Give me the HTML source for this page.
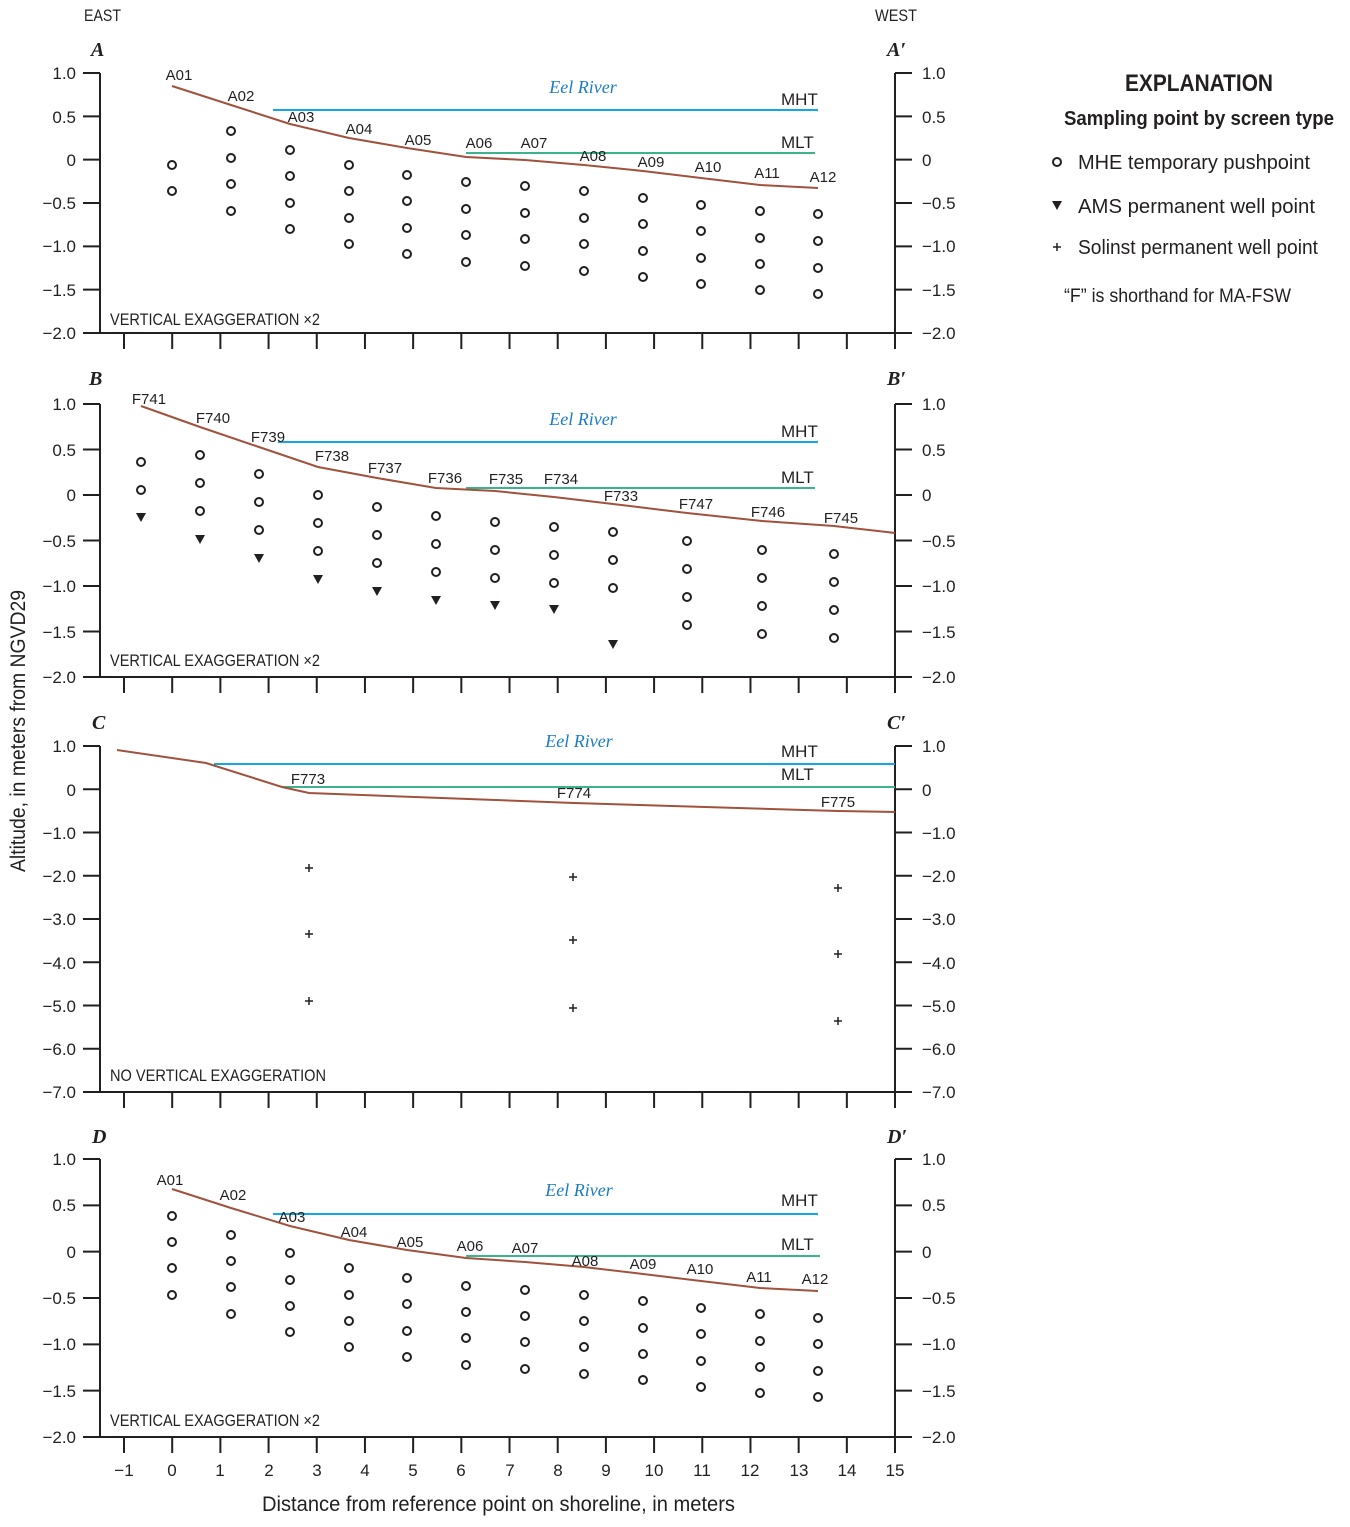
<!DOCTYPE html>
<html><head><meta charset="utf-8"><style>
body{margin:0;background:#fff}
svg text{font-family:"Liberation Sans Narrow","Liberation Sans",sans-serif;fill:#231f20}
.t{font-size:17px}
.l{font-size:15px}
.er{font-family:"Liberation Serif",serif !important;font-style:italic;fill:#1a7cc8 !important;font-size:18px}
.pl{font-family:"Liberation Serif",serif !important;font-style:italic;font-weight:bold;font-size:20px}
</style></head><body>
<svg id="s" width="1350" height="1522" viewBox="0 0 1350 1522" xmlns="http://www.w3.org/2000/svg">
<g id="g" stroke="#231f20" fill="none"></g>
<text x="84" y="21" class="t" textLength="37" lengthAdjust="spacingAndGlyphs">EAST</text><text x="875" y="21" class="t" textLength="42" lengthAdjust="spacingAndGlyphs">WEST</text>
<!-- Panel A -->
<text x="91" y="56" class="pl">A</text><text x="887" y="56" class="pl">A′</text>
<g class="t" text-anchor="end"><text x="76" y="79">1.0</text><text x="76" y="123">0.5</text><text x="76" y="166">0</text><text x="76" y="209">−0.5</text><text x="76" y="252">−1.0</text><text x="76" y="296">−1.5</text><text x="76" y="339">−2.0</text></g>
<g class="t"><text x="922" y="79">1.0</text><text x="922" y="123">0.5</text><text x="922" y="166">0</text><text x="922" y="209">−0.5</text><text x="922" y="252">−1.0</text><text x="922" y="296">−1.5</text><text x="922" y="339">−2.0</text></g>
<text x="110" y="325" class="t" textLength="210" lengthAdjust="spacingAndGlyphs">VERTICAL EXAGGERATION ×2</text>
<text x="583" y="93" class="er" text-anchor="middle">Eel River</text>
<text x="781" y="105" class="t">MHT</text><text x="781" y="148" class="t">MLT</text>
<g class="l" text-anchor="middle"><text x="179" y="80">A01</text><text x="241" y="101">A02</text><text x="301" y="122">A03</text><text x="359" y="134">A04</text><text x="418" y="145">A05</text><text x="479" y="148">A06</text><text x="534" y="148">A07</text><text x="593" y="161">A08</text><text x="651" y="167">A09</text><text x="708" y="172">A10</text><text x="767" y="178">A11</text><text x="823" y="182">A12</text></g>
<!-- Panel B -->
<text x="89" y="385" class="pl">B</text><text x="887" y="385" class="pl">B′</text>
<g class="t" text-anchor="end"><text x="76" y="410">1.0</text><text x="76" y="456">0.5</text><text x="76" y="501">0</text><text x="76" y="547">−0.5</text><text x="76" y="592">−1.0</text><text x="76" y="638">−1.5</text><text x="76" y="683">−2.0</text></g>
<g class="t"><text x="922" y="410">1.0</text><text x="922" y="456">0.5</text><text x="922" y="501">0</text><text x="922" y="547">−0.5</text><text x="922" y="592">−1.0</text><text x="922" y="638">−1.5</text><text x="922" y="683">−2.0</text></g>
<text x="110" y="666" class="t" textLength="210" lengthAdjust="spacingAndGlyphs">VERTICAL EXAGGERATION ×2</text>
<text x="583" y="425" class="er" text-anchor="middle">Eel River</text>
<text x="781" y="437" class="t">MHT</text><text x="781" y="483" class="t">MLT</text>
<g class="l" text-anchor="middle"><text x="149" y="404">F741</text><text x="213" y="423">F740</text><text x="268" y="442">F739</text><text x="332" y="461">F738</text><text x="385" y="473">F737</text><text x="445" y="483">F736</text><text x="506" y="484">F735</text><text x="561" y="484">F734</text><text x="621" y="501">F733</text><text x="696" y="509">F747</text><text x="768" y="517">F746</text><text x="841" y="523">F745</text></g>
<!-- Panel C -->
<text x="92" y="729" class="pl">C</text><text x="887" y="729" class="pl">C′</text>
<g class="t" text-anchor="end"><text x="76" y="752">1.0</text><text x="76" y="796">0</text><text x="76" y="839">−1.0</text><text x="76" y="882">−2.0</text><text x="76" y="925">−3.0</text><text x="76" y="969">−4.0</text><text x="76" y="1012">−5.0</text><text x="76" y="1055">−6.0</text><text x="76" y="1098">−7.0</text></g>
<g class="t"><text x="922" y="752">1.0</text><text x="922" y="796">0</text><text x="922" y="839">−1.0</text><text x="922" y="882">−2.0</text><text x="922" y="925">−3.0</text><text x="922" y="969">−4.0</text><text x="922" y="1012">−5.0</text><text x="922" y="1055">−6.0</text><text x="922" y="1098">−7.0</text></g>
<text x="110" y="1081" class="t" textLength="216" lengthAdjust="spacingAndGlyphs">NO VERTICAL EXAGGERATION</text>
<text x="579" y="747" class="er" text-anchor="middle">Eel River</text>
<text x="781" y="757" class="t">MHT</text><text x="781" y="780" class="t">MLT</text>
<g class="l" text-anchor="middle"><text x="308" y="784">F773</text><text x="574" y="798">F774</text><text x="838" y="807">F775</text></g>
<!-- Panel D -->
<text x="92" y="1143" class="pl">D</text><text x="887" y="1143" class="pl">D′</text>
<g class="t" text-anchor="end"><text x="76" y="1165">1.0</text><text x="76" y="1211">0.5</text><text x="76" y="1258">0</text><text x="76" y="1304">−0.5</text><text x="76" y="1350">−1.0</text><text x="76" y="1397">−1.5</text><text x="76" y="1443">−2.0</text></g>
<g class="t"><text x="922" y="1165">1.0</text><text x="922" y="1211">0.5</text><text x="922" y="1258">0</text><text x="922" y="1304">−0.5</text><text x="922" y="1350">−1.0</text><text x="922" y="1397">−1.5</text><text x="922" y="1443">−2.0</text></g>
<text x="110" y="1426" class="t" textLength="210" lengthAdjust="spacingAndGlyphs">VERTICAL EXAGGERATION ×2</text>
<text x="579" y="1196" class="er" text-anchor="middle">Eel River</text>
<text x="781" y="1206" class="t">MHT</text><text x="781" y="1250" class="t">MLT</text>
<g class="l" text-anchor="middle"><text x="170" y="1185">A01</text><text x="233" y="1200">A02</text><text x="292" y="1222">A03</text><text x="354" y="1237">A04</text><text x="410" y="1247">A05</text><text x="470" y="1251">A06</text><text x="525" y="1253">A07</text><text x="585" y="1266">A08</text><text x="643" y="1269">A09</text><text x="700" y="1274">A10</text><text x="759" y="1282">A11</text><text x="815" y="1284">A12</text></g>
<g class="t" text-anchor="middle"><text x="124" y="1476">−1</text><text x="172" y="1476">0</text><text x="220" y="1476">1</text><text x="269" y="1476">2</text><text x="317" y="1476">3</text><text x="365" y="1476">4</text><text x="413" y="1476">5</text><text x="461" y="1476">6</text><text x="510" y="1476">7</text><text x="558" y="1476">8</text><text x="606" y="1476">9</text><text x="654" y="1476">10</text><text x="702" y="1476">11</text><text x="750" y="1476">12</text><text x="799" y="1476">13</text><text x="847" y="1476">14</text><text x="895" y="1476">15</text></g>
<text x="262" y="1511" style="font-size:21px" textLength="473" lengthAdjust="spacingAndGlyphs">Distance from reference point on shoreline, in meters</text>
<text transform="translate(25,872) rotate(-90)" style="font-size:21px" textLength="282" lengthAdjust="spacingAndGlyphs">Altitude, in meters from NGVD29</text>
<!-- legend -->
<text x="1125" y="91" style="font-size:24px;font-weight:bold" textLength="148" lengthAdjust="spacingAndGlyphs">EXPLANATION</text>
<text x="1064" y="125" style="font-size:20px;font-weight:bold" textLength="270" lengthAdjust="spacingAndGlyphs">Sampling point by screen type</text>
<text x="1078" y="169" style="font-size:20px" textLength="232" lengthAdjust="spacingAndGlyphs">MHE temporary pushpoint</text>
<text x="1078" y="213" style="font-size:20px" textLength="237" lengthAdjust="spacingAndGlyphs">AMS permanent well point</text>
<text x="1078" y="254" style="font-size:20px" textLength="240" lengthAdjust="spacingAndGlyphs">Solinst permanent well point</text>
<text x="1064" y="302" style="font-size:19px" textLength="227" lengthAdjust="spacingAndGlyphs">“F” is shorthand for MA-FSW</text>
</svg>
<script>
const g=document.getElementById('g');const NS='http://www.w3.org/2000/svg';
function el(n,a){const e=document.createElementNS(NS,n);for(const k in a)e.setAttribute(k,a[k]);g.appendChild(e);return e}
function line(x1,y1,x2,y2,c,w){el('line',{x1,y1,x2,y2,stroke:c||'#231f20','stroke-width':w||2})}
function poly(p,c){el('polyline',{points:p.map(q=>q.join(',')).join(' '),stroke:c,'stroke-width':2,fill:'none'})}
function circ(x,y){el('circle',{cx:x,cy:y,r:4,'stroke-width':2})}
function tri(x,y){el('polygon',{points:`${x-5},${y-5} ${x+5},${y-5} ${x},${y+4}`,fill:'#231f20',stroke:'none'})}
function plus(x,y){line(x-4,y,x+4,y,'#231f20',1.5);line(x,y-4,x,y+4,'#231f20',1.5)}
const X=i=>124+i*48.19;
function frame(top,bot,ys){
 line(100,top,100,bot);line(895,top,895,bot+16);line(100,bot,895,bot);
 ys.forEach(y=>{line(83,y,100,y);line(895,y,912,y)});
 for(let i=0;i<16;i++)line(X(i),bot,X(i),bot+16);
}
const r=(a,b,n)=>Array.from({length:n},(_,i)=>a+(b-a)*i/(n-1));
frame(73,333,r(73,333,7));frame(404,677,r(404,677,7));frame(746,1092,r(746,1092,9));frame(1159,1437,r(1159,1437,7));
const BR='#a0523d',BL='#14a8e0',GR='#3db38c';
const cx=[172,231,290,349,407,466,525,584,643,701,760,818];
line(273,110,818,110,BL);line(466,153,815,153,GR);
poly([[172,86],[231,105],[290,124],[349,138],[407,148],[466,157],[525,160],[584,165],[643,171],[701,178],[760,185],[818,188]],BR);
const A=[[165,191],[131,158,184,211],[150,176,203,229],[165,191,218,244],[175,201,228,254],[182,209,235,262],[186,213,239,266],[191,218,244,271],[198,224,251,277],[205,231,258,284],[211,238,264,290],[214,241,268,294]];
A.forEach((c,i)=>c.forEach(y=>circ(cx[i],y)));
line(278,442,818,442,BL);line(466,488,815,488,GR);
poly([[141,406],[200,427],[259,447],[318,467],[377,478],[436,488],[495,491],[554,497],[613,504],[687,513],[762,521],[834,526],[895,533]],BR);
const bx=[141,200,259,318,377,436,495,554,613,687,762,834];
const B=[[462,490],[455,483,511],[474,502,530],[495,523,551],[507,535,563],[516,544,572],[522,550,578],[527,555,583],[532,560,588],[541,569,597,625],[550,578,606,634],[554,582,610,638]];
const T=[518,540,559,580,592,601,606,610,645];
B.forEach((c,i)=>c.forEach(y=>circ(bx[i],y)));T.forEach((y,i)=>tri(bx[i],y));
line(214,764,895,764,BL);line(282,787,895,787,GR);
poly([[117,750],[165,757],[206,763],[282,787],[309,793],[574,803],[838,811],[895,812]],BR);
[[309,[868,934,1001]],[573,[877,940,1008]],[838,[888,954,1021]]].forEach(([x,ys])=>ys.forEach(y=>plus(x,y)));
line(273,1214,818,1214,BL);line(466,1256,820,1256,GR);
poly([[172,1189],[231,1208],[290,1226],[349,1240],[407,1250],[466,1258],[525,1262],[584,1267],[643,1274],[701,1281],[760,1288],[818,1291]],BR);
const D=[[1216,1242,1268,1295],[1235,1261,1287,1314],[1253,1280,1306,1332],[1268,1295,1321,1347],[1278,1304,1331,1357],[1286,1312,1338,1365],[1290,1316,1342,1369],[1295,1321,1347,1374],[1301,1328,1354,1380],[1308,1334,1361,1387],[1314,1341,1367,1393],[1318,1344,1371,1397]];
D.forEach((c,i)=>c.forEach(y=>circ(cx[i],y)));
circ(1057,162);tri(1057,206);plus(1057,247);
</script>
</body></html>
